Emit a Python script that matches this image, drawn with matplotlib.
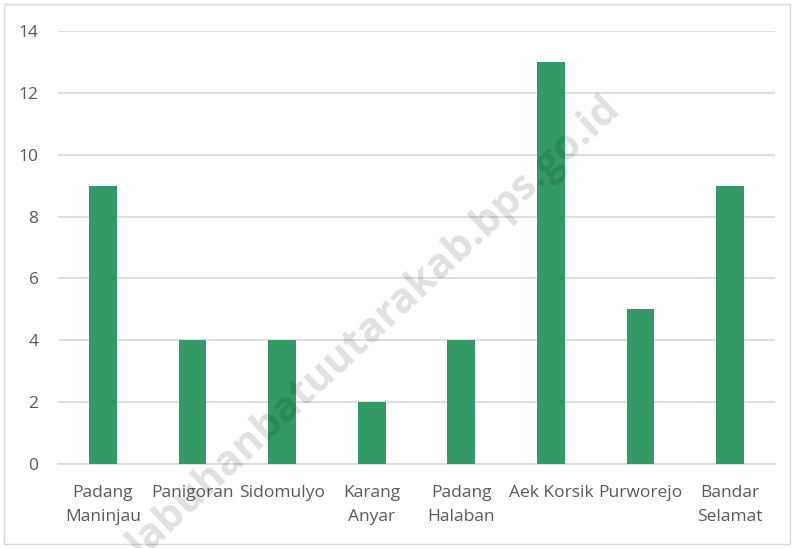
import matplotlib.pyplot as plt
from matplotlib.patches import Rectangle

# data
desa = ["Padang\nManinjau", "Panigoran", "Sidomulyo", "Karang\nAnyar",
        "Padang\nHalaban", "Aek Korsik", "Purworejo", "Bandar\nSelamat"]
jumlah = [9, 4, 4, 2, 4, 13, 5, 9]
y_ticks = [0, 2, 4, 6, 8, 10, 12, 14]

plt.rcParams['font.family'] = ['Open Sans', 'DejaVu Sans']

fig = plt.figure(figsize=(7.95, 5.48), dpi=100)
ax = fig.add_axes([58 / 795, 1 - 464 / 548, 717 / 795, 433 / 548])

x_pos = range(len(desa))
ax.bar(x_pos, jumlah, width=0.31, color="#339966", zorder=3)

ax.set_xlim(-0.5, len(desa) - 0.5)
ax.set_ylim(0, 14)
ax.set_yticks(y_ticks)
ax.set_xticks(list(x_pos))
ax.set_xticklabels(desa, fontsize=12.5, color="#595959", linespacing=1.65)
ax.tick_params(axis="y", labelsize=12.5, labelcolor="#595959", length=0, pad=14)
ax.tick_params(axis="x", length=0, pad=15)

ax.grid(axis="y", color="#d9d9d9", linewidth=1.2, zorder=0)
for s in ["top", "right", "left"]:
    ax.spines[s].set_visible(False)
ax.spines["bottom"].set_color("#d9d9d9")
ax.spines["bottom"].set_linewidth(1.2)

# chart border
fig.patches.append(Rectangle((4 / 795, 4 / 548), 786 / 795, 540 / 548,
                             transform=fig.transFigure, fill=False,
                             edgecolor="#d9d9d9", linewidth=1))

# watermark, semi-transparent on top
fig.text(0.47, 0.405, "labuhanbatuutarakab.bps.go.id", fontsize=30,
         fontweight="bold", color="black", alpha=0.12, rotation=43,
         ha="center", va="center", zorder=10)

fig.savefig("out.png", dpi=100)
